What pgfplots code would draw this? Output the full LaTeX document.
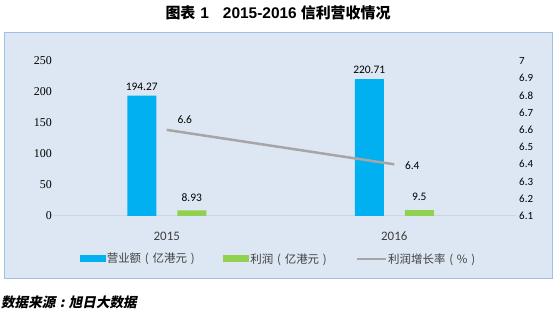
\documentclass[border=0pt]{standalone}
\usepackage{pgfplots}
\pgfplotsset{compat=1.18}
\usepackage{fontspec}
\setmainfont{Carlito}
\newfontfamily\cjk{Noto Sans CJK SC}
\newfontfamily\cjksl{Noto Sans CJK SC}[FakeSlant=0.2]
\newfontfamily\serif{Liberation Serif}
\newfontfamily\arial{Liberation Sans}
\definecolor{bg}{RGB}{221,231,243}
\definecolor{bord}{RGB}{160,192,228}
\definecolor{cblue}{RGB}{0,176,240}
\definecolor{cgreen}{RGB}{146,208,80}
\definecolor{cgray}{RGB}{166,166,166}
\definecolor{base}{RGB}{210,214,220}
\definecolor{txt}{RGB}{64,64,64}
\newcommand{\lp}{\makebox[1em][c]{(}}
\newcommand{\rp}{\makebox[1em][c]{)}}
\pgfplotsset{/pgf/number format/assume math mode=true}
\begin{document}
\begin{tikzpicture}
\useasboundingbox (0bp,0bp) rectangle (556bp,312bp);
\fill[bg] (4bp,33bp) rectangle (552bp,279bp);
\draw[bord, line width=1bp] (4bp,33bp) rectangle (552bp,279bp);
\node[inner sep=0pt, font={\cjk\bfseries\fontsize{15}{16}\selectfont}] at (278bp,299bp) {图表\hspace{5bp}{\arial\bfseries\fontsize{15.5}{16}\selectfont 1}\hspace{14bp}{\arial\bfseries\fontsize{15.5}{16}\selectfont 2015-2016}\hspace{4bp}信利营收情况};
\node[anchor=west, inner sep=0pt, font={\cjksl\bfseries\fontsize{13.6}{15}\selectfont}] at (1bp,10bp) {数据来源\makebox[1em][c]{:}旭日大数据};

\begin{axis}[
  at={(53bp,96bp)}, anchor=south west, scale only axis,
  width=463bp, height=155bp,
  xmin=-0.5, xmax=1.535, ymin=0, ymax=250,
  ybar=21bp, bar width=29bp,
  xtick={0,1}, xticklabels={2015,2016},
  ytick={0,50,100,150,200,250},
  axis x line*=bottom, axis y line*=left,
  x axis line style={base, line width=1bp, -},
  y axis line style={draw=none},
  major tick length=0pt, tick style={draw=none},
  xticklabel style={font=\fontsize{13}{13}\selectfont, text=txt, inner sep=0pt, anchor=center, yshift=-20bp},
  yticklabel style={font=\serif\fontsize{12}{12}\selectfont, inner sep=0pt, anchor=east, xshift=-1bp},
  nodes near coords,
  every node near coord/.append style={font=\fontsize{11.5}{12}\selectfont, text=black, inner sep=0pt, anchor=south},
  clip=false,
  legend columns=3,
  legend cell align=left,
  legend style={at={(0.49,-0.277)}, anchor=center, draw=none, fill=none,
    font=\cjk\fontsize{11.5}{12}\selectfont,
    nodes={inner sep=1bp, text=txt},
    /tikz/every even column/.append style={column sep=24bp}},
]
\addplot[fill=cblue, draw=none,
  every node near coord/.append style={yshift=5bp},
  legend image code/.code={\fill[cblue] (0bp,-3.5bp) rectangle (26bp,3.5bp);}]
  coordinates {(0,194.27) (1,220.71)};
\addlegendentry{营业额\lp 亿港元\rp}
\addplot[fill=cgreen, draw=none,
  every node near coord/.append style={yshift=9bp},
  legend image code/.code={\fill[cgreen] (0bp,-3.5bp) rectangle (26bp,3.5bp);}]
  coordinates {(0,8.93) (1,9.5)};
\addlegendentry{利润\lp 亿港元\rp}
\addlegendimage{legend image code/.code={\draw[cgray, line width=2.5bp] (0bp,0bp) -- (29bp,0bp);}}
\addlegendentry{利润增长率\lp\%\rp}
\end{axis}

\begin{axis}[
  at={(53bp,96bp)}, anchor=south west, scale only axis,
  width=463bp, height=155bp,
  xmin=-0.5, xmax=1.535, ymin=6.1, ymax=7,
  axis y line*=right, axis x line=none,
  y axis line style={draw=none},
  major tick length=0pt, tick style={draw=none},
  ytick={6.1,6.2,6.3,6.4,6.5,6.6,6.7,6.8,6.9,7},
  yticklabel style={font=\fontsize{11}{11}\selectfont, inner sep=0pt, anchor=west, xshift=3bp},
  clip=false,
]
\addplot[cgray, line width=2.5bp, mark=none] coordinates {(0,6.6) (1,6.4)}
  node[pos=0, anchor=center, inner sep=0pt, xshift=18bp, yshift=10bp, font=\fontsize{11.5}{12}\selectfont, text=black] {6.6}
  node[pos=1, anchor=center, inner sep=0pt, xshift=18bp, yshift=-1bp, font=\fontsize{11.5}{12}\selectfont, text=black] {6.4};
\end{axis}
\end{tikzpicture}
\end{document}
